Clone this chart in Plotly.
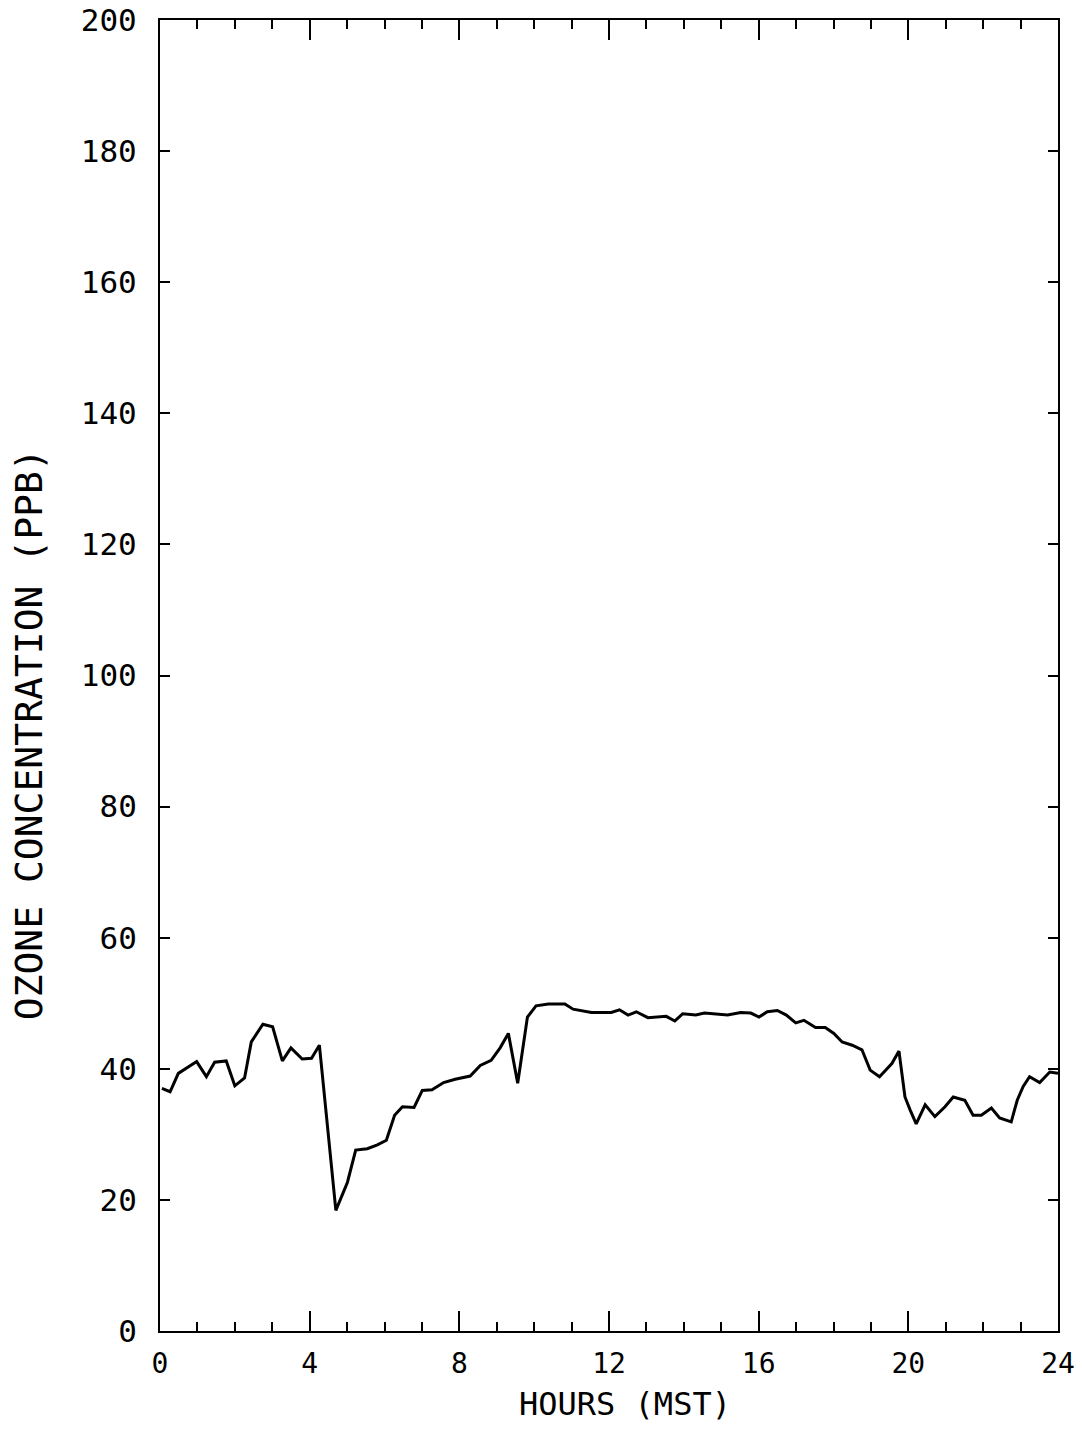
"""
Diurnal ozone concentration plot (plotter-style line chart).
"""
import plotly.graph_objects as go

# Hours (MST) and ozone concentration (ppb)
hours = [
    0.05, 0.27, 0.49, 0.67, 0.98, 1.24, 1.46, 1.77, 2.00, 2.26, 2.44, 2.75,
    3.01, 3.27, 3.50, 3.80, 4.05, 4.26, 4.70, 5.01, 5.23, 5.54, 5.81, 6.05,
    6.27, 6.48, 6.79, 7.01, 7.27, 7.58, 7.89, 8.29, 8.56, 8.85, 9.09, 9.31,
    9.56, 9.82, 10.05, 10.38, 10.82, 11.04, 11.53, 12.06, 12.28, 12.51, 12.73,
    13.04, 13.53, 13.76, 13.97, 14.32, 14.55, 15.17, 15.52, 15.79, 16.01,
    16.23, 16.50, 16.74, 16.99, 17.21, 17.52, 17.78, 18.01, 18.23, 18.50,
    18.76, 18.98, 19.23, 19.56, 19.75, 19.91, 20.05, 20.21, 20.45, 20.71,
    20.98, 21.20, 21.51, 21.73, 21.95, 22.22, 22.44, 22.75, 22.91, 23.07,
    23.24, 23.51, 23.78, 24.0,
]
ozone_ppb = [
    37.0, 36.5, 39.3, 40.0, 41.1, 38.8, 41.0, 41.2, 37.4, 38.6, 44.1, 46.8,
    46.4, 41.2, 43.2, 41.5, 41.6, 43.6, 18.4, 22.7, 27.6, 27.8, 28.4, 29.1,
    32.9, 34.2, 34.1, 36.7, 36.8, 37.9, 38.4, 38.9, 40.5, 41.3, 43.2, 45.4,
    37.8, 47.9, 49.6, 49.9, 49.9, 49.1, 48.6, 48.6, 49.0, 48.2, 48.7,
    47.8, 48.0, 47.3, 48.4, 48.2, 48.5, 48.2, 48.6, 48.5, 47.9,
    48.7, 48.9, 48.2, 47.0, 47.4, 46.3, 46.3, 45.4, 44.1, 43.6,
    42.9, 39.8, 38.8, 40.8, 42.7, 35.7, 33.7, 31.6, 34.5, 32.7,
    34.2, 35.7, 35.2, 32.9, 32.9, 34.0, 32.5, 31.9, 35.2, 37.3,
    38.8, 37.9, 39.5, 39.3,
]

X_RANGE = [0, 24]
Y_RANGE = [0, 200]
Y_TITLE = "OZONE CONCENTRATION (PPB)"
X_TITLE = "HOURS (MST)"

FONT = "DejaVu Sans Mono"

fig = go.Figure()

fig.add_trace(go.Scatter(
    x=hours,
    y=ozone_ppb,
    mode="lines",
    line={"color": "black", "width": 3},
    showlegend=False,
))

axis_style = {
    "automargin": False,
    "tick0": 0,
    "tickwidth": 2,
    "tickcolor": "black",
    "ticks": "inside",
    "showline": True,
    "linecolor": "black",
    "linewidth": 2,
    "mirror": "ticks",
    "showgrid": False,
    "zeroline": False,
    "ticklabeloverflow": "allow",
}

# the page body adds an 8px margin all round, so the figure is sized to
# fit the window without scrolling
fig.update_layout(
    width=1074,
    height=1415,
    paper_bgcolor="white",
    plot_bgcolor="white",
    margin={"l": 152, "r": 24, "t": 12, "b": 92},
    font={"family": FONT, "color": "black", "size": 30},
    xaxis={
        **axis_style,
        "range": X_RANGE,
        "dtick": 4,
        "ticklen": 20,
        "minor": {"dtick": 1, "ticks": "inside", "ticklen": 9,
                  "tickwidth": 2, "tickcolor": "black", "showgrid": False},
        "ticklabelstandoff": 6,
        "tickfont": {"size": 28},
    },
    yaxis={
        **axis_style,
        "range": Y_RANGE,
        "dtick": 20,
        "ticklen": 10,
        "ticklabelstandoff": 15,
        "tickfont": {"size": 31},
    },
    annotations=[
        {
            "text": Y_TITLE,
            "textangle": -90,
            "xref": "paper",
            "yref": "paper",
            "x": -0.145,
            "y": 0.455,
            "xanchor": "center",
            "yanchor": "middle",
            "showarrow": False,
            "font": {"size": 38},
        },
        {
            "text": X_TITLE,
            "xref": "paper",
            "yref": "paper",
            "x": 0.518,
            "y": -0.0557,
            "xanchor": "center",
            "yanchor": "middle",
            "showarrow": False,
            "font": {"size": 32},
        },
    ],
)

fig.write_html("out.html")
